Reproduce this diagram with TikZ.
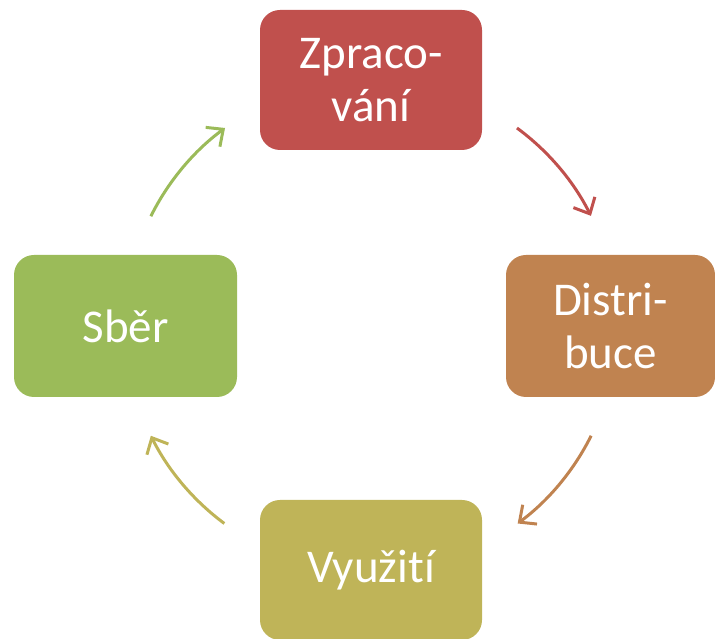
\documentclass[tikz,border=0pt]{standalone}
\usepackage{fontspec}
\setmainfont{Carlito}[Ligatures=NoCommon]
\usetikzlibrary{arrows.meta,calc}
\definecolor{cRed}{HTML}{C0504D}
\definecolor{cOrange}{HTML}{C08350}
\definecolor{cOlive}{HTML}{BFB458}
\definecolor{cGreen}{HTML}{9BBB59}
\tikzset{
  stagebox/.style={rectangle, rounded corners=20pt, draw=none, fill=#1,
    text=white, align=center, inner sep=0pt,
    font=\fontsize{47pt}{53pt}\selectfont},
  cyclearrow/.style={draw=#1, line width=3pt,
    -{Straight Barb[length=13pt,width=24pt,line width=3pt]}}
}
\begin{document}
\begin{tikzpicture}[x=1pt,y=1pt]
  \useasboundingbox (0,0) rectangle (715,639);
  \coordinate (c) at (371,313);
  % the four stages
  \node[stagebox=cRed, minimum width=222pt, minimum height=140pt] (zprac) at (371,559) {Zpraco-\\vání};
  \node[stagebox=cOrange, minimum width=209pt, minimum height=142pt] (distr) at (610.5,313) {Distri-\\buce};
  \node[stagebox=cOlive, minimum width=222pt, minimum height=140pt] (vyuz) at (371,69) {Využití};
  \node[stagebox=cGreen, minimum width=223pt, minimum height=142pt] (sber) at (125.5,313) {Sběr};
  % arc starts on the circle around the cycle centre
  \coordinate (a1) at ($(c)+(53.6:246)$);
  \coordinate (a2) at ($(c)+(-26.5:246)$);
  \coordinate (a3) at ($(c)+(-126.6:246)$);
  \coordinate (a4) at ($(c)+(153.5:246)$);
  \draw[cyclearrow=cRed] (a1) arc[start angle=53.6, end angle=26.6, radius=246];
  \draw[cyclearrow=cOrange] (a2) arc[start angle=-26.5, end angle=-53.4, radius=246];
  \draw[cyclearrow=cOlive] (a3) arc[start angle=-126.6, end angle=-153.5, radius=246];
  \draw[cyclearrow=cGreen] (a4) arc[start angle=153.5, end angle=126.4, radius=246];
\end{tikzpicture}
\end{document}
